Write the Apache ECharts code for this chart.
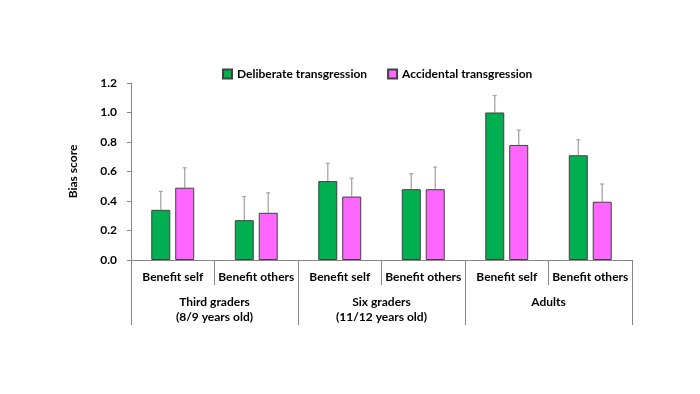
<!DOCTYPE html>
<html>
<head>
<meta charset="utf-8">
<script src="https://cdn.jsdelivr.net/npm/echarts@6/dist/echarts.min.js"></script>
<style>html,body{margin:0;padding:0;background:#fff}#c{width:700px;height:394px}</style>
</head>
<body>
<div id="c"></div>
<script>
var categories = ['Benefit self', 'Benefit others', 'Benefit self', 'Benefit others', 'Benefit self', 'Benefit others'];
var groups = ['Third graders\n(8/9 years old)', 'Six graders\n(11/12 years old)', 'Adults'];
var seriesNames = ['Deliberate transgression', 'Accidental transgression'];
var deliberate = [0.34, 0.27, 0.535, 0.48, 1.00, 0.71];
var deliberateErr = [0.125, 0.16, 0.12, 0.105, 0.115, 0.105];
var accidental = [0.49, 0.32, 0.43, 0.48, 0.78, 0.395];
var accidentalErr = [0.135, 0.135, 0.125, 0.15, 0.10, 0.12];
var yTicks = [0, 0.2, 0.4, 0.6, 0.8, 1.0, 1.2];

var FONT = 'Lato, "Open Sans", sans-serif';
var BAR_W = 19, GAP_PCT = 26;
var halfOffset = (BAR_W + BAR_W * GAP_PCT / 100) / 2;

function errSeries(vals, errs, sign) {
  return {
    type: 'custom',
    xAxisIndex: 0,
    z: 1,
    silent: true,
    data: vals.map(function (v, i) { return [i, v, v + errs[i]]; }),
    renderItem: function (params, api) {
      var c = api.value(0);
      var p0 = api.coord([c, api.value(1)]);
      var p1 = api.coord([c, api.value(2)]);
      var x = p0[0] + sign * halfOffset;
      var st = { stroke: '#A6A6A6', lineWidth: 1.3 };
      return {
        type: 'group',
        children: [
          { type: 'line', shape: { x1: x, y1: p0[1], x2: x, y2: p1[1] }, style: st },
          { type: 'line', shape: { x1: x - 2, y1: p1[1], x2: x + 2, y2: p1[1] }, style: st }
        ]
      };
    }
  };
}

var chart = echarts.init(document.getElementById('c'));
chart.setOption({
  animation: false,
  textStyle: { fontFamily: FONT },
  legend: {
    top: 68, left: 222, padding: 0,
    itemWidth: 9, itemHeight: 9, itemGap: 20,
    icon: 'rect',
    textStyle: { fontFamily: FONT, fontSize: 12, fontWeight: 'bold', color: '#000' },
    data: seriesNames
  },
  grid: { left: 131, right: 68, top: 83, bottom: 134 },
  xAxis: [{
    type: 'category',
    data: categories,
    axisLine: { show: true, lineStyle: { color: '#868686', width: 1 } },
    axisTick: { show: true, alignWithLabel: false, interval: 0, length: 25, lineStyle: { color: '#868686' } },
    axisLabel: { interval: 0, margin: 11, fontSize: 12, fontWeight: 'bold', color: '#000', fontFamily: FONT }
  }, {
    type: 'category',
    position: 'bottom',
    data: groups,
    axisLine: { show: false },
    axisTick: { show: true, interval: 0, length: 65, lineStyle: { color: '#868686' } },
    axisLabel: { interval: 0, margin: 35, fontSize: 12, fontWeight: 'bold', color: '#000', lineHeight: 15, fontFamily: FONT }
  }],
  yAxis: {
    type: 'value',
    min: 0, max: 1.2, interval: 0.2,
    name: 'Bias score',
    nameLocation: 'middle',
    nameGap: 52,
    nameTextStyle: { fontSize: 12, fontWeight: 'bold', color: '#000', fontFamily: FONT },
    axisLine: { show: true, lineStyle: { color: '#868686' } },
    axisTick: { show: true, length: 4, lineStyle: { color: '#868686' } },
    splitLine: { show: false },
    axisLabel: {
      margin: 14, fontSize: 12, fontWeight: 'bold', color: '#000', fontFamily: FONT,
      formatter: function (v) { return yTicks.indexOf(Math.round(v * 10) / 10) >= 0 ? v.toFixed(1) : ''; }
    }
  },
  series: [{
    name: seriesNames[0], type: 'bar', xAxisIndex: 0, data: deliberate,
    barWidth: BAR_W, barGap: GAP_PCT + '%', z: 2,
    itemStyle: { color: '#00B050', borderColor: '#404040', borderWidth: 1 }
  }, {
    name: seriesNames[1], type: 'bar', xAxisIndex: 0, data: accidental,
    barWidth: BAR_W, barGap: GAP_PCT + '%', z: 2,
    itemStyle: { color: '#FF66FF', borderColor: '#404040', borderWidth: 1 }
  },
  errSeries(deliberate, deliberateErr, -1),
  errSeries(accidental, accidentalErr, 1)
  ]
});
</script>
</body>
</html>
